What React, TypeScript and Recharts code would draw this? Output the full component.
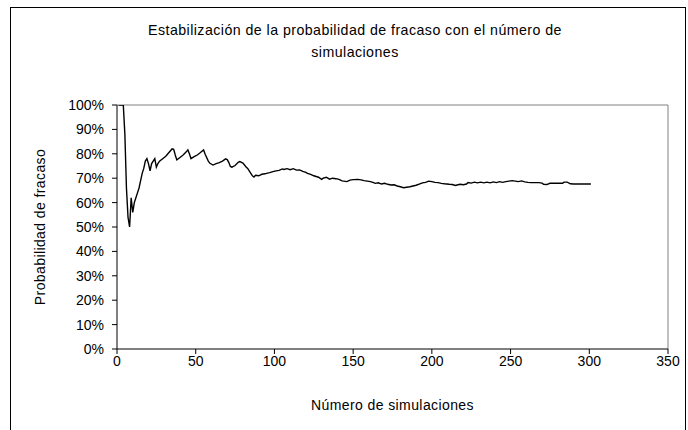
import React from 'react';
import { LineChart, Line, XAxis, YAxis, ReferenceLine, Label } from 'recharts';

const simulations = [
  1, 2, 3, 4, 5, 6, 7, 8, 9, 10, 11, 12, 13, 14, 15, 16, 17, 18, 19, 20,
  21, 22, 23, 24, 25, 26, 27, 29, 31, 33, 35, 36, 37, 38, 40, 42, 44, 45, 46, 47,
  49, 51, 53, 55, 56, 58, 59, 61, 63, 65, 67, 69, 70, 71, 72, 73, 75, 77, 78, 80,
  82, 83, 85, 86, 87, 88, 90, 92, 94, 95, 97, 99, 101, 103, 105, 106, 108, 110, 112, 114,
  116, 118, 120, 121, 123, 125, 127, 128, 130, 131, 133, 135, 137, 139, 141, 143, 146, 148, 150, 153,
  155, 157, 159, 161, 163, 164, 166, 168, 170, 172, 174, 176, 178, 180, 182, 184, 186, 188, 190, 192,
  194, 196, 198, 200, 202, 204, 206, 208, 211, 213, 215, 216, 218, 220, 222, 223, 225, 227, 229, 231,
  233, 235, 237, 239, 241, 243, 245, 247, 249, 251, 253, 255, 257, 259, 261, 263, 265, 268, 270, 271,
  273, 275, 277, 280, 283, 284, 286, 288, 290, 295, 301,
];

const failureProbability = [
  100, 100, 100, 100, 88, 66, 54, 50, 62, 56, 60, 62, 64, 66, 69, 72, 74, 77, 78, 76,
  73, 76, 77, 78, 74.5, 76, 77, 78, 79, 80.5, 82, 81.8, 79.5, 77.5, 78.5, 79.5, 80.8, 81.6, 80, 78,
  78.8, 79.5, 80.5, 81.6, 79.8, 77, 76.1, 75.4, 76, 76.4, 77, 77.9, 77.6, 76.5, 74.8, 74.5, 75.2, 76.5, 76.8, 76.2,
  74.6, 74, 72, 71, 70.5, 71.2, 71, 71.6, 71.8, 72, 72.3, 72.7, 73, 73.2, 73.8, 73.6, 73.9, 73.5, 73.9, 73.3,
  73.4, 72.8, 72.4, 72, 71.6, 71, 70.6, 70.4, 69.5, 70, 70.4, 69.6, 70, 69.8, 69.5, 68.9, 68.6, 69.2, 69.4, 69.5,
  69.3, 69, 68.8, 68.6, 68.2, 67.9, 68.1, 67.6, 67.9, 67.5, 67.2, 67.3, 66.8, 66.5, 66.1, 66.3, 66.5, 66.8, 67.1, 67.6,
  68.1, 68.3, 68.8, 68.6, 68.3, 68.2, 67.9, 67.7, 67.5, 67.4, 67.0, 67.2, 67.5, 67.3, 67.6, 68.2, 68, 68.4, 68.1, 68.4,
  68.1, 68.4, 68.1, 68.5, 68.2, 68.6, 68.3, 68.6, 68.8, 69, 68.8, 68.6, 68.9, 68.5, 68.3, 68.2, 68.2, 68.2, 68, 67.5,
  67.4, 67.9, 67.9, 67.9, 67.9, 68.4, 68.4, 67.7, 67.6, 67.6, 67.6,
];

const xTicks = [0, 50, 100, 150, 200, 250, 300, 350];
const yTicks = [0, 10, 20, 30, 40, 50, 60, 70, 80, 90, 100];

const titleLines = [
  'Estabilización de la probabilidad de fracaso con el número de',
  'simulaciones',
];
const xAxisTitle = 'Número de simulaciones';
const yAxisTitle = 'Probabilidad de fracaso';

const data = simulations.map((n, i) => ({ n, p: failureProbability[i] }));

const FONT = '"Liberation Sans", Arial, sans-serif';

export default function App() {
  return (
    <div style={{ position: 'absolute', left: 0, top: 0, width: 688, height: 430, overflow: 'hidden', background: '#fff', fontFamily: FONT }}>
      <div style={{ position: 'absolute', left: 10, top: 7, width: 676, height: 440, border: '1px solid #000', boxSizing: 'border-box' }} />
      <div style={{ position: 'absolute', left: 0, top: 19, width: 710, textAlign: 'center', fontSize: 14.2, lineHeight: '22px', letterSpacing: 0.45, color: '#000' }}>
        {titleLines.map((t) => (
          <div key={t}>{t}</div>
        ))}
      </div>
      <div style={{ position: 'absolute', left: 0, top: 0 }}>
        <LineChart width={688} height={430} data={data} margin={{ top: 105, right: 20, bottom: 51, left: 37 }}>
          <ReferenceLine y={100} stroke="#808080" strokeWidth={1} ifOverflow="extendDomain" />
          <ReferenceLine x={350} stroke="#808080" strokeWidth={1} ifOverflow="extendDomain" />
          <XAxis
            dataKey="n"
            type="number"
            domain={[0, 350]}
            ticks={xTicks}
            interval={0}
            height={30}
            stroke="#000"
            tickSize={5}
            tickMargin={2}
            tick={{ fill: '#000', fontSize: 14, fontFamily: FONT }}
            tickLine={{ stroke: '#000' }}
            allowDataOverflow
          >
            <Label value={xAxisTitle} position="center" dy={41} style={{ fill: '#000', fontSize: 14, fontFamily: FONT, letterSpacing: 0.4 }} />
          </XAxis>
          <YAxis
            type="number"
            domain={[0, 100]}
            ticks={yTicks}
            interval={0}
            width={80}
            stroke="#000"
            tickSize={5}
            tickMargin={8}
            tickFormatter={(v: number) => `${v}%`}
            tick={{ fill: '#000', fontSize: 14, fontFamily: FONT }}
            tickLine={{ stroke: '#000' }}
            allowDataOverflow
          >
            <Label
              content={() => (
                <text
                  x={40}
                  y={227}
                  transform="rotate(-90, 40, 227)"
                  textAnchor="middle"
                  dominantBaseline="central"
                  style={{ fill: '#000', fontSize: 14, fontFamily: FONT, letterSpacing: 0.4 }}
                >
                  {yAxisTitle}
                </text>
              )}
            />
          </YAxis>
          <Line
            type="linear"
            dataKey="p"
            stroke="#000"
            strokeWidth={1.4}
            dot={false}
            isAnimationActive={false}
          />
        </LineChart>
      </div>
    </div>
  );
}
